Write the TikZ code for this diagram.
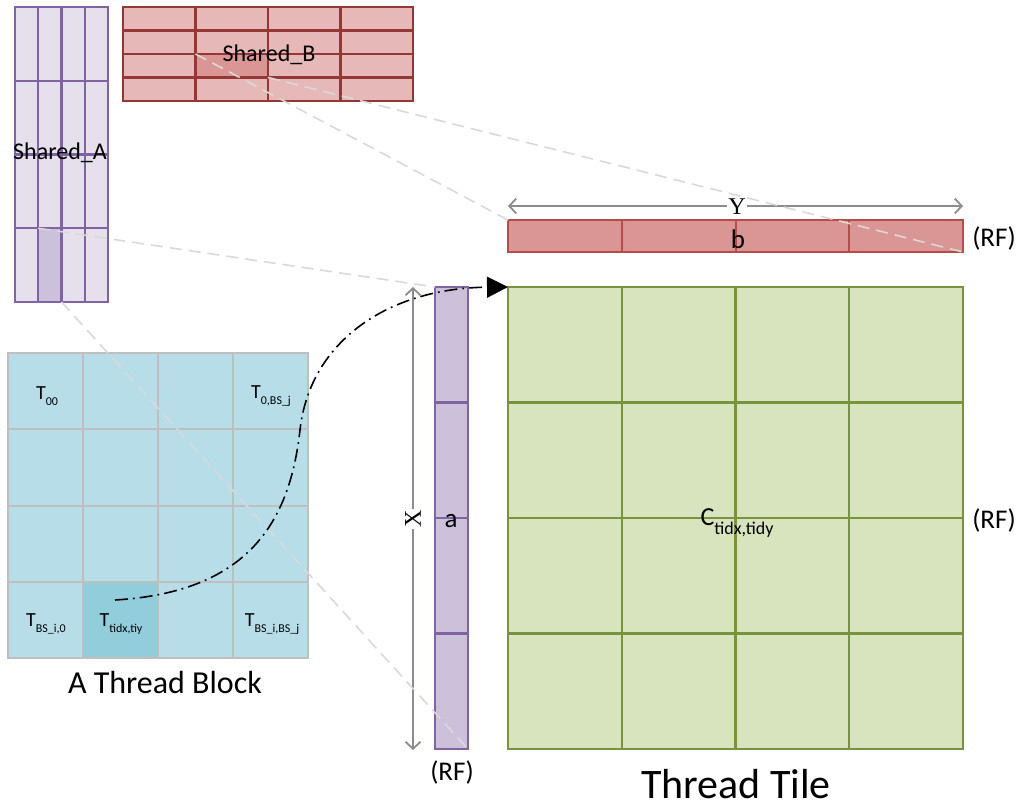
\documentclass[tikz,border=0pt]{standalone}
\usepackage{fontspec}
\setmainfont{Carlito}
\newfontfamily\serifface{Liberation Serif}
\usetikzlibrary{arrows.meta}

\definecolor{purpline}{HTML}{8064A2}
\definecolor{purpfill}{HTML}{E5E0EC}
\definecolor{purphi}{HTML}{CCC1DA}
\definecolor{redline}{HTML}{953735}
\definecolor{redfill}{HTML}{E6B9B8}
\definecolor{redhi}{HTML}{D99694}
\definecolor{rowline}{HTML}{B84C49}
\definecolor{aquafill}{HTML}{B7DEE8}
\definecolor{aquahi}{HTML}{92CDDC}
\definecolor{gridgray}{HTML}{BFBFBF}
\definecolor{greenfill}{HTML}{D7E4BD}
\definecolor{greenline}{HTML}{77933C}
\definecolor{dimgray}{HTML}{8C8C8C}
\definecolor{guide}{HTML}{D9D9D9}

% subscript with explicit size and drop
\newcommand{\lsub}[2]{\raisebox{-0.32em}{\fontsize{#1}{#1}\selectfont #2}}

\begin{document}
\begin{tikzpicture}[x=1pt,y=-1pt,
  box/.style={rectangle,inner sep=0pt,outer sep=0pt,anchor=north west},
  purpgrid/.style={draw=purpline,line width=2.2pt},
  redgrid/.style={draw=redline,line width=2.2pt},
  rowgrid/.style={draw=rowline,line width=2pt},
  graygrid/.style={draw=gridgray,line width=2pt},
  greengrid/.style={draw=greenline,line width=2.2pt},
  guideline/.style={draw=guide,line width=1.6pt,dash pattern=on 12pt off 7pt},
  dimline/.style={draw=dimgray,line width=2pt,
    {Straight Barb[length=7pt,width=15pt,line width=1.8pt]}-{Straight Barb[length=7pt,width=15pt,line width=1.8pt]}},
  lbl/.style={inner sep=0pt,font=\fontsize{24}{28}\selectfont},
  rf/.style={inner sep=0pt,font=\fontsize{27}{30}\selectfont},
  tlbl/.style={inner sep=0pt,font=\fontsize{20}{22}\selectfont},
  flow/.style={line width=1.6pt,dash pattern=on 13pt off 5pt on 1.8pt off 5pt,
    -{Triangle[length=21pt,width=21pt]}}
]
\useasboundingbox (0,0) rectangle (1021,806);

% ---------- Shared_A ----------
\node[box,minimum width=93pt,minimum height=295pt,fill=purpfill] (shA) at (15,7) {};
\node[box,minimum width=23.25pt,minimum height=73.75pt,fill=purphi] (shAh) at (38.25,228.25) {};
\foreach \x in {38.25,61.5,84.75} \draw[purpgrid] (\x,7) -- (\x,302);
\foreach \y in {80.75,154.5,228.25} \draw[purpgrid] (15,\y) -- (108,\y);
\draw[purpgrid] (shA.north west) rectangle (shA.south east);
\node[lbl] (shAt) at (60,153) {Shared\_A};

% ---------- Shared_B ----------
\node[box,minimum width=290pt,minimum height=94pt,fill=redfill] (shB) at (123,7) {};
\node[box,minimum width=72.5pt,minimum height=23.5pt,fill=redhi] (shBh) at (195.5,54) {};
\foreach \x in {195.5,268,340.5} \draw[redgrid] (\x,7) -- (\x,101);
\foreach \y in {30.5,54,77.5} \draw[redgrid] (123,\y) -- (413,\y);
\draw[redgrid] (shB.north west) rectangle (shB.south east);
\node[lbl] (shBt) at (269,55) {Shared\_B};

% ---------- thread block ----------
\node[box,minimum width=300pt,minimum height=305pt,fill=aquafill] (blk) at (8,353) {};
\node[box,minimum width=75pt,minimum height=76.25pt,fill=aquahi] (blkh) at (83,581.75) {};
\foreach \x in {83,158,233} \draw[graygrid] (\x,353) -- (\x,658);
\foreach \y in {429.25,505.5,581.75} \draw[graygrid] (8,\y) -- (308,\y);
\draw[graygrid] (blk.north west) rectangle (blk.south east);
\node[tlbl] (t00) at (47,396) {T\lsub{12}{00}};
\node[tlbl] (t0j) at (271,396) {T\lsub{12}{0,BS\_j}};
\node[tlbl] (ti0) at (46,624) {T\lsub{12}{BS\_i,0}};
\node[tlbl] (tij) at (121,624) {T\lsub{12}{tidx,tiy}};
\node[tlbl] (tbij) at (272,624) {T\lsub{12}{BS\_i,BS\_j}};
\node[inner sep=0pt,font=\fontsize{32}{36}\selectfont] (blkt) at (165,683) {A Thread Block};
\coordinate (src) at (115,600);

% ---------- register row b ----------
\node[box,minimum width=455pt,minimum height=32pt,fill=redhi] (brow) at (508,220) {};
\foreach \x in {621.75,735.5,849.25} \draw[rowgrid] (\x,220) -- (\x,252);
\draw[rowgrid] (brow.north west) rectangle (brow.south east);
\node[rf] (bt) at (738,239) {b};
\node[rf] (brf) at (994,238) {(RF)};

% ---------- register column a ----------
\node[box,minimum width=33pt,minimum height=462pt,fill=purphi] (acol) at (435,287) {};
\foreach \y in {402.5,518,633.5} \draw[purpgrid] (435,\y) -- (468,\y);
\draw[purpgrid] (acol.north west) rectangle (acol.south east);
\node[rf] (at) at (451,521) {a};
\node[rf] (arf) at (452,772) {(RF)};

% ---------- thread tile C ----------
\node[box,minimum width=455pt,minimum height=462pt,fill=greenfill] (tile) at (508,287) {};
\foreach \x in {621.75,735.5,849.25} \draw[greengrid] (\x,287) -- (\x,749);
\foreach \y in {402.5,518,633.5} \draw[greengrid] (508,\y) -- (963,\y);
\draw[greengrid] (tile.north west) rectangle (tile.south east);
\node[inner sep=0pt,font=\fontsize{26}{30}\selectfont] (ct) at (737,523) {C\lsub{18}{tidx,tidy}};
\node[rf] (crf) at (994,520) {(RF)};
\node[inner sep=0pt,font=\fontsize{42}{46}\selectfont] (tilet) at (736,784) {Thread Tile};

% ---------- dimensions ----------
\coordinate (yl) at (508,206);
\coordinate (yr) at (963,206);
\draw[dimline] (yl) -- (yr);
\node[fill=white,inner sep=1.5pt,font=\serifface\fontsize{24}{26}\selectfont] (ylab) at (737,207) {Y};
\coordinate (xt) at (413,287);
\coordinate (xb) at (413,750);
\draw[dimline] (xt) -- (xb);
\node[fill=white,inner sep=1.5pt,rotate=90,font=\serifface\fontsize{24}{26}\selectfont] (xlab) at (413,519) {X};

% ---------- guide lines from shared tiles to registers ----------
\draw[guideline] (shBh.north west) -- (brow.north west);
\draw[guideline] (shBh.south east) -- (brow.south east);
\draw[guideline] (shAh.north west) -- (acol.north west);
\draw[guideline] (shAh.south east) -- (acol.south east);

% ---------- thread to tile ----------
\draw[flow] (src) .. controls (250,592) and (290,520) .. (300,430)
  .. controls (310,340) and (390,288) .. (tile.north west);
\end{tikzpicture}
\end{document}
